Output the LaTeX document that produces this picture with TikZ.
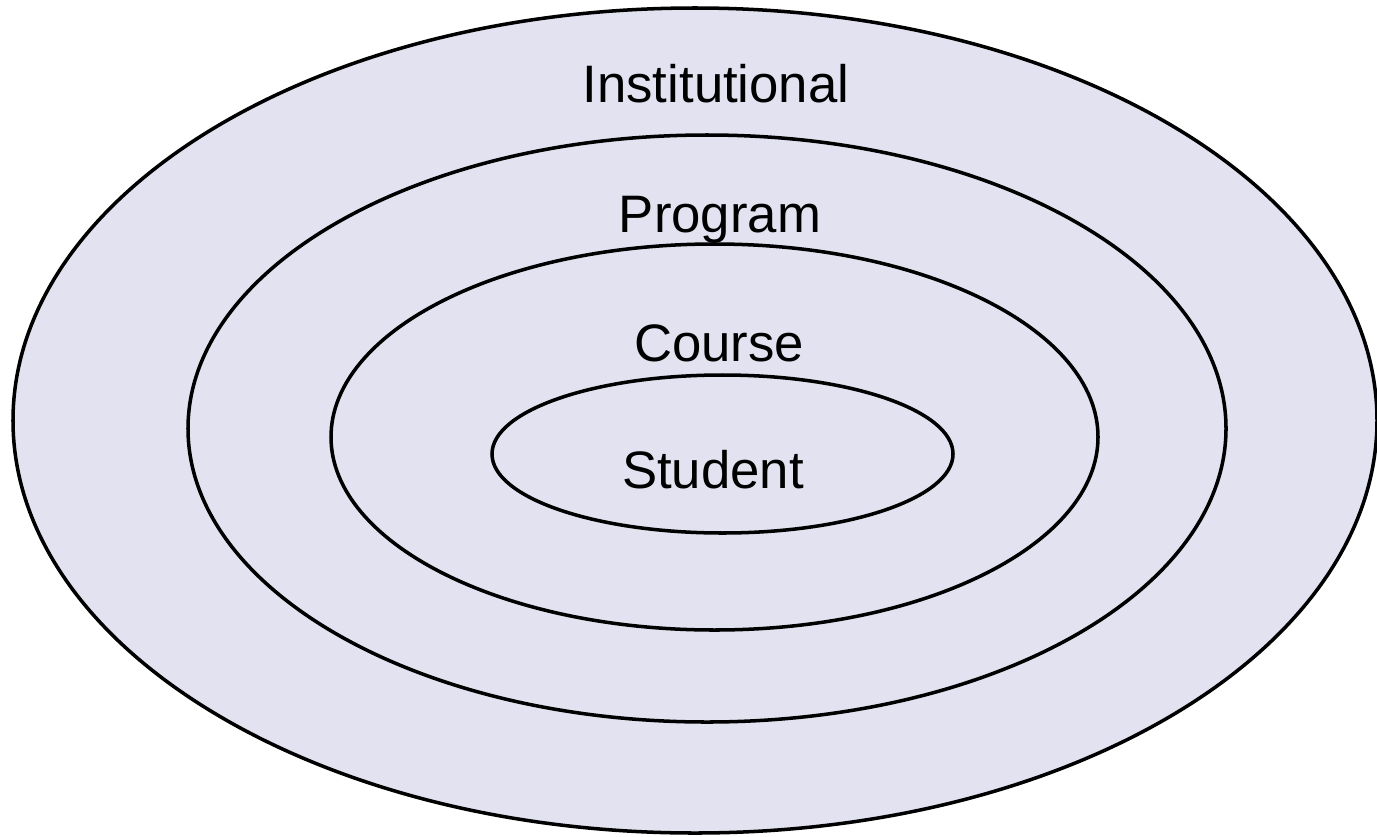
\documentclass[tikz,border=0pt]{standalone}
\usepackage{fontspec}
\setmainfont{Liberation Sans}
\usetikzlibrary{shapes.geometric}
\definecolor{dotfill}{RGB}{226,226,241}

\begin{document}
\begin{tikzpicture}[scale=1,
    ring/.style={ellipse, draw=black, line width=1pt, fill=dotfill, inner sep=0pt},
    levelname/.style={anchor=base, font=\fontsize{15}{18}\selectfont}]
    \useasboundingbox (0,0) rectangle (13.77,8.36);

    % nested levels, outer first
    \node[ring, minimum width=13.64cm, minimum height=8.25cm] (inst) at (6.95,4.155) {};
    \node[ring, minimum width=10.38cm, minimum height=5.87cm] (prog) at (7.07,4.075) {};
    \node[ring, minimum width=7.67cm, minimum height=3.86cm] (course) at (7.145,3.99) {};
    \node[ring, minimum width=4.61cm, minimum height=1.58cm] (stud) at (7.225,3.82) {};

    \node[levelname] (instlabel) at (7.16,7.34) {Institutional};
    \node[levelname] (proglabel) at (7.20,6.04) {Program};
    \node[levelname] (courselabel) at (7.19,4.75) {Course};
    \node[levelname] (studlabel) at (7.13,3.48) {Student};
\end{tikzpicture}
\end{document}
